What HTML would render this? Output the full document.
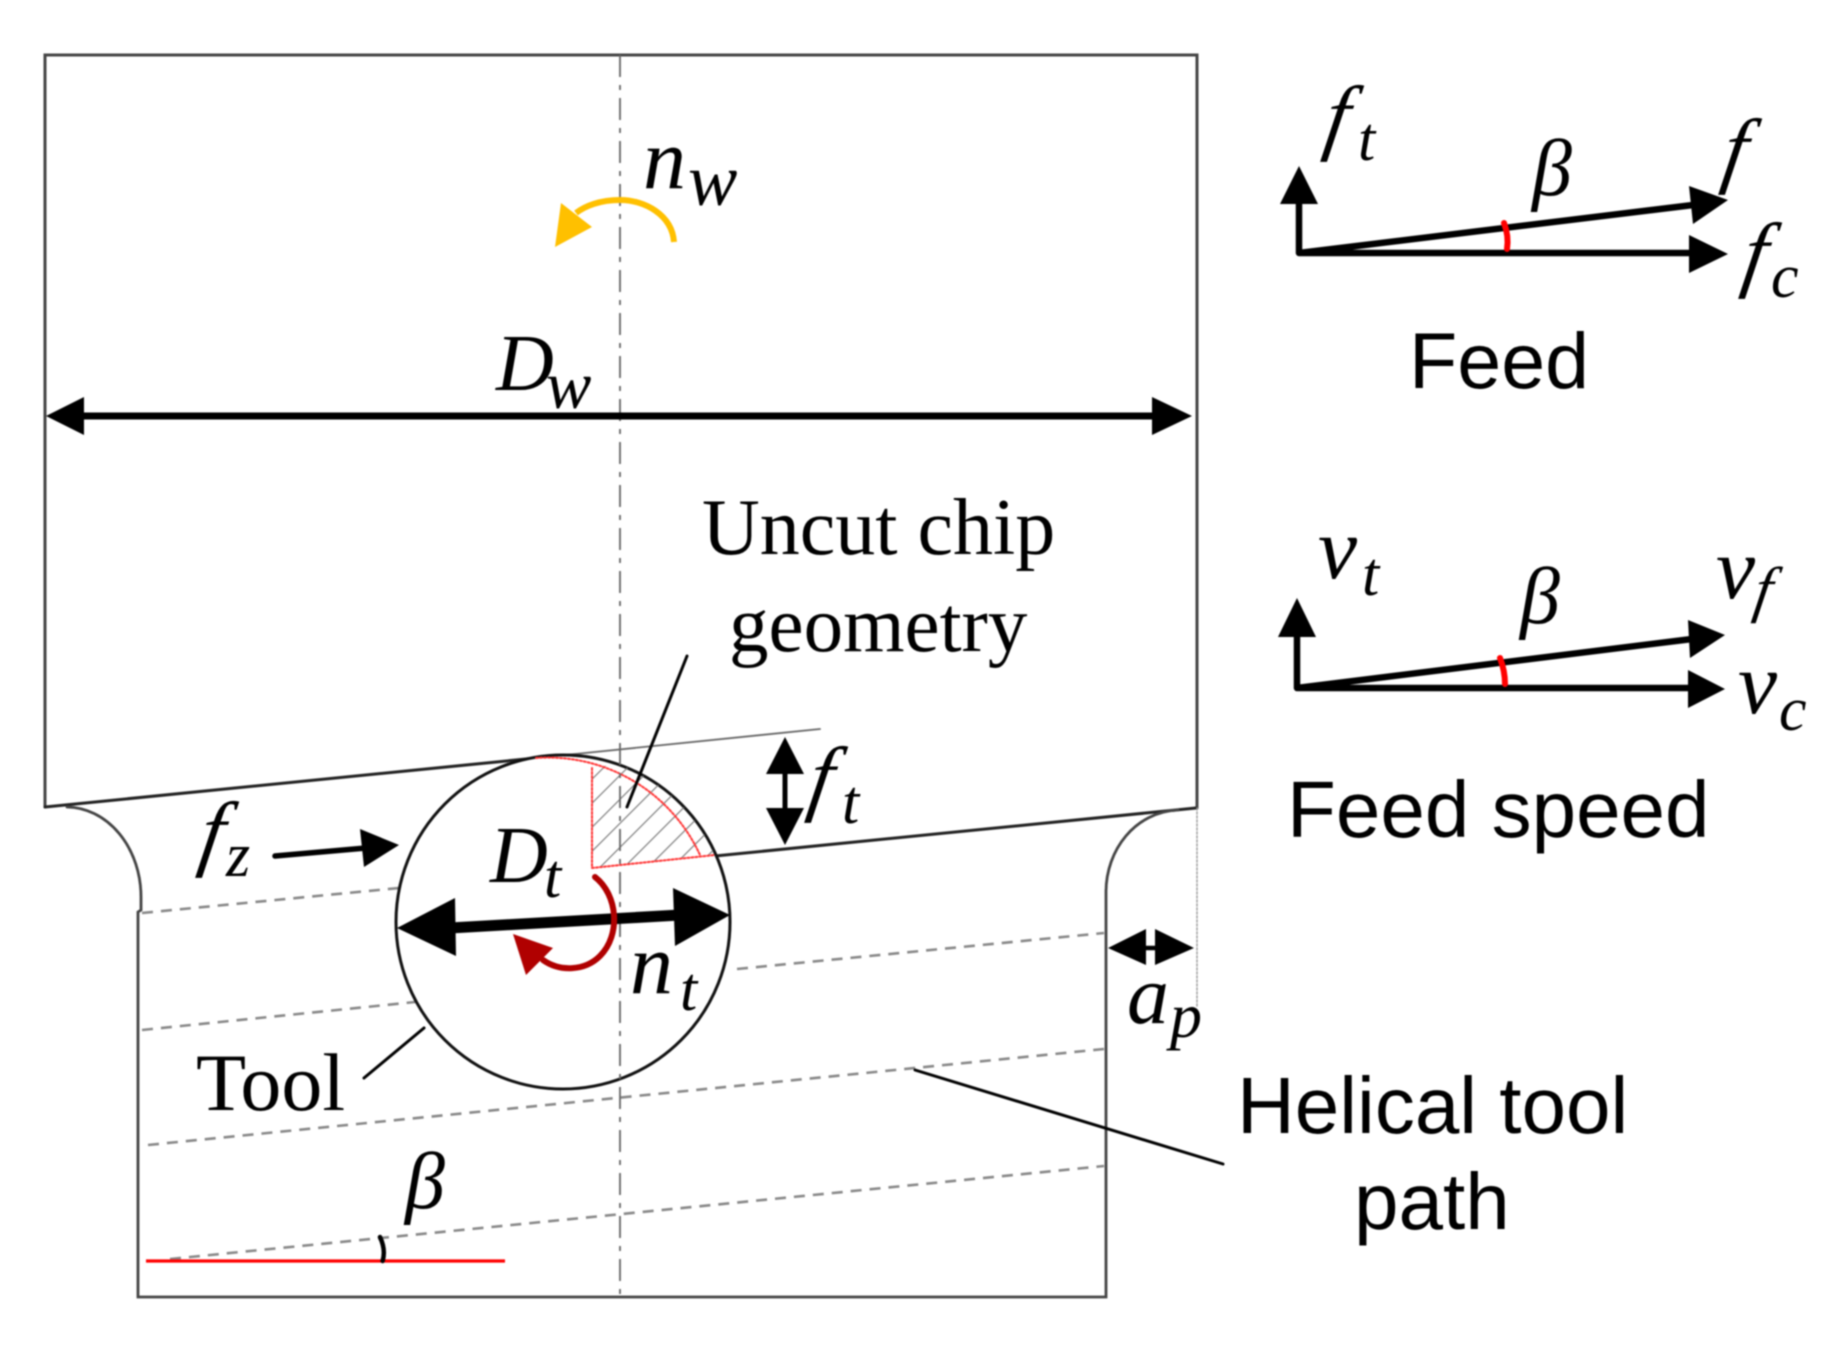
<!DOCTYPE html>
<html><head><meta charset="utf-8"><style>
html,body{margin:0;padding:0;background:#fff}
svg{display:block;filter:blur(.8px)}
.m{font-family:"Liberation Serif",serif;font-style:italic;fill:#000}
.s{font-family:"Liberation Serif",serif;fill:#000;font-size:80px}
.a{font-family:"Liberation Sans",sans-serif;fill:#000;font-size:80px}
</style></head><body>
<svg width="1838" height="1358" viewBox="0 0 1838 1358" xmlns="http://www.w3.org/2000/svg">
<defs>
<pattern id="h" width="17" height="17" patternUnits="userSpaceOnUse" patternTransform="rotate(-45)"><line x1="0" y1="0" x2="17" y2="0" stroke="#777" stroke-width="2.2"/></pattern>
</defs>
<rect width="1838" height="1358" fill="#fff"/>
<g fill="none" stroke-linecap="round">
<path d="M45,807 V55 H1197 V808" stroke="#444" stroke-width="3"/>
<path d="M45,807 L536,758" stroke="#222" stroke-width="3"/>
<path d="M536,758 L820,729" stroke="#666" stroke-width="1.8"/>
<path d="M715,856 L1196,808" stroke="#222" stroke-width="3"/>
<path d="M67,807 A75,90 0 0 1 141,897 V910 L138,912 V1297 H1106 V892 C1106,850 1135,812 1178,810" stroke="#444" stroke-width="2.8"/>
<path d="M1197,808 V1007" stroke="#999" stroke-width="1.4" stroke-dasharray="2 2"/>
<g stroke="#888" stroke-width="2.6" stroke-dasharray="11 8" stroke-linecap="butt">
<path d="M142,913 L399,888"/><path d="M142,1030 L415,1002"/><path d="M737,969 L1104,933"/>
<path d="M148,1145 L1104,1049"/><path d="M170,1259 L1104,1166"/>
</g>
<circle cx="563" cy="922" r="167" fill="#fff" stroke="#111" stroke-width="3"/>
<path d="M592,868 V768 L618,764 A167,167 0 0 1 715,855 Z" fill="url(#h)" stroke="none"/>
<path d="M536,758 A167,167 0 0 1 700,855 M592,768 V868 L715,855" stroke="#f33" stroke-width="2" stroke-dasharray="2 2"/>
<path d="M620,55 V1297" stroke="#666" stroke-width="1.8" stroke-dasharray="22 8 5 8" stroke-linecap="butt"/>
<path d="M146,1261 H505" stroke="#f00" stroke-width="3.2" stroke-linecap="butt"/>
<path d="M380,1237 Q386,1250 382.6,1261" stroke="#000" stroke-width="4.5"/>
<path d="M424,1028 L364,1078" stroke="#000" stroke-width="3"/>
<path d="M687,656 L627,807" stroke="#000" stroke-width="3"/>
<path d="M915,1070 L1223,1164" stroke="#000" stroke-width="3"/>
<path d="M80,416 H1156" stroke="#000" stroke-width="7" stroke-linecap="butt"/>
<path d="M450,928 L680,915" stroke="#000" stroke-width="11" stroke-linecap="butt"/>
<path d="M275,856 L366,848" stroke="#000" stroke-width="5.5"/>
<path d="M785,770 V812" stroke="#000" stroke-width="5" stroke-linecap="butt"/>
<path d="M1140,948 H1160" stroke="#000" stroke-width="4.5" stroke-linecap="butt"/>
<path d="M595,877 C618,895 621,935 600,956 C585,971 560,972 543,960" stroke="#b00000" stroke-width="6"/>
<path d="M674,242 C672,215 645,200 620,200 C600,200 585,206 576,213" stroke="#ffc000" stroke-width="6" stroke-linecap="butt"/>
<path d="M1299,253 V200 M1299,253 H1693 M1299,253 L1693,205" stroke="#000" stroke-width="6.5" stroke-linecap="round"/>
<path d="M1297,688 V633 M1297,688 H1692 M1297,688 L1692,639" stroke="#000" stroke-width="6.5" stroke-linecap="round"/>
<path d="M1504,223 Q1509,236 1507,249" stroke="#f00" stroke-width="6"/>
<path d="M1500,658 Q1505,671 1505,684" stroke="#f00" stroke-width="6"/>
</g>
<g fill="#000">
<path d="M46,416 L84,397 V435 Z"/>
<path d="M1192,416 L1152,397 V435 Z"/>
<path d="M397,928 L455,898 L456,956 Z"/>
<path d="M730,915 L673,888 L675,946 Z"/>
<path d="M399,845 L360,829 L364,867 Z"/>
<path d="M785,737 L766,774 H804 Z"/>
<path d="M785,845 L766,808 H804 Z"/>
<path d="M1108,948 L1146,929 V965 Z"/>
<path d="M1194,948 L1155,929 V965 Z"/>
<path d="M1299,166 L1280,204 H1318 Z"/>
<path d="M1728,254 L1689,235 V273 Z"/>
<path d="M1728,200 L1689,186 L1693,224 Z"/>
<path d="M1297,598 L1278,637 H1316 Z"/>
<path d="M1725,689 L1688,670 V708 Z"/>
<path d="M1725,635 L1688,620 L1690,658 Z"/>
<path d="M513,934 L553,948 L526,975 Z" fill="#b00000"/>
<path d="M561,203 L592,227 L555,247 Z" fill="#ffc000"/>
</g>
<!-- labels -->
<text class="m" x="643" y="188" font-size="86">n</text><text class="m" x="688" y="205" font-size="74">w</text>
<text class="m" x="496" y="390" font-size="80">D</text><text class="m" x="546" y="408" font-size="68">w</text>
<text class="s" x="702" y="554">Uncut chip</text>
<text class="s" x="729" y="651" style="font-size:79px">geometry</text>
<text class="s" x="196" y="1110" style="font-size:82px">Tool</text>
<text class="m" x="405" y="1208" font-size="80">β</text>
<text class="m" transform="translate(197 860) skewX(-9)" font-size="84">f</text><text class="m" x="226" y="876" font-size="62">z</text>
<text class="m" x="490" y="882" font-size="80">D</text><text class="m" x="544" y="897" font-size="62">t</text>
<text class="m" x="630" y="993" font-size="86">n</text><text class="m" x="680" y="1010" font-size="62">t</text>
<text class="m" transform="translate(806 805) skewX(-9)" font-size="84">f</text><text class="m" x="842" y="823" font-size="62">t</text>
<text class="m" x="1127" y="1023" font-size="84">a</text><text class="m" x="1170" y="1037" font-size="64">p</text>
<text class="m" transform="translate(1322 144) skewX(-9)" font-size="84">f</text><text class="m" x="1358" y="160" font-size="62">t</text>
<text class="m" x="1532" y="195" font-size="80">β</text>
<text class="m" transform="translate(1720 177) skewX(-9)" font-size="84">f</text>
<text class="m" transform="translate(1740 281) skewX(-9)" font-size="84">f</text><text class="m" x="1771" y="297" font-size="62">c</text>
<text class="m" x="1318" y="578" font-size="88">ν</text><text class="m" x="1362" y="595" font-size="62">t</text>
<text class="m" x="1520" y="623" font-size="80">β</text>
<text class="m" x="1716" y="598" font-size="88">ν</text><text class="m" transform="translate(1752 610) skewX(-9)" font-size="62">f</text>
<text class="m" x="1738" y="713" font-size="88">ν</text><text class="m" x="1779" y="730" font-size="62">c</text>
<text class="a" x="1409" y="388" style="font-size:79px">Feed</text>
<text class="a" x="1287" y="837">Feed speed</text>
<text class="a" x="1237" y="1133">Helical tool</text>
<text class="a" x="1354" y="1229">path</text>
</svg>
</body></html>
